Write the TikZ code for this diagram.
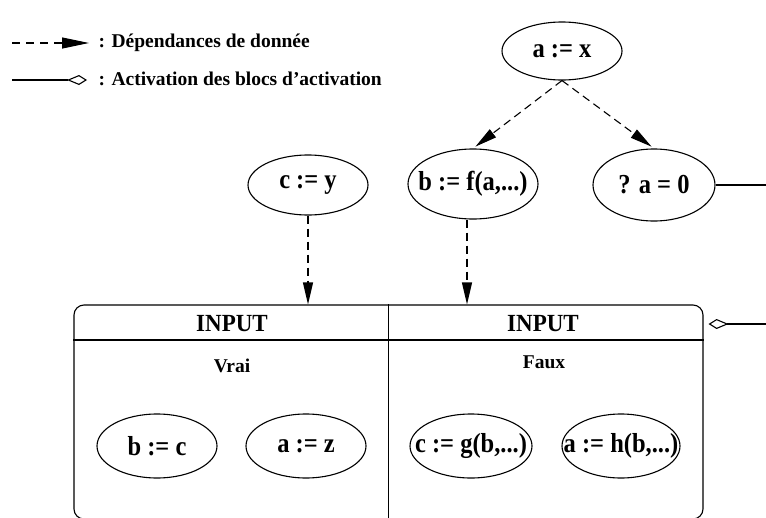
\documentclass[tikz,border=0pt]{standalone}
\usepackage{fontspec}
\setmainfont{Liberation Serif}
\usetikzlibrary{shapes.geometric,arrows.meta,calc}
\newcommand\elltxt[1]{\makebox[0pt]{\scalebox{1}[1.12]{#1}}}
\begin{document}
\begin{tikzpicture}[x=1pt,y=-1pt,line width=1.1pt,
  ell/.style={draw,ellipse,inner sep=0pt,font=\fontsize{24.5}{25}\selectfont\bfseries},
  dep/.style={dash pattern=on 8pt off 5pt,-{Triangle[length=22pt,width=10pt]}},
  act/.style={-{Kite[open,length=20pt,width=10pt,inset=12pt]}},
  leg/.style={inner sep=0pt,anchor=west,font=\fontsize{19.5}{20}\selectfont\bfseries},
  head/.style={inner sep=0pt,font=\fontsize{23}{24}\selectfont\bfseries},
  sub/.style={inner sep=0pt,font=\fontsize{19.5}{20}\selectfont\bfseries}]
\useasboundingbox (0,0) rectangle (766,517);
% legend
\coordinate (l1a) at (12,43);
\coordinate (l1b) at (89,43);
\coordinate (l2a) at (12,80);
\coordinate (l2b) at (87,80);
\draw[dash pattern=on 8pt off 6pt,-{Triangle[length=27pt,width=11pt]}] (l1a) -- (l1b);
\draw[act] (l2a) -- (l2b);
\node[leg] (t1) at (98,43) {: Dépendances de donnée};
\node[leg] (t2) at (98,79) {: Activation des blocs d’activation};
% top ellipses
\node[ell,minimum width=120pt,minimum height=58pt] (ax) at (562,51) {\elltxt{a := x}};
\node[ell,minimum width=130pt,minimum height=70pt] (bf) at (473,184) {\elltxt{b := f(a,...)}};
\node[ell,minimum width=122pt,minimum height=72pt] (qa) at (654,185) {\elltxt{? a = 0}};
\node[ell,minimum width=120pt,minimum height=60pt] (cy) at (308,185) {\elltxt{c := y}};
% box
\node[draw,rounded corners=10pt,minimum width=629pt,minimum height=214pt,inner sep=0pt] (box) at (388.5,412) {};
\draw (box.north) -- (box.south);
\coordinate (hl) at (74,340);
\draw (box.west |- hl) -- (box.east |- hl);
\node[head] (in1) at (232,324) {\scalebox{1}[1.07]{INPUT}};
\node[head] (in2) at (543,324) {\scalebox{1}[1.07]{INPUT}};
\node[sub] (vrai) at (232,366) {Vrai};
\node[sub] (faux) at (544,362) {Faux};
\node[ell,minimum width=120pt,minimum height=64pt] (bc) at (157,446) {\elltxt{b := c}};
\node[ell,minimum width=120pt,minimum height=64pt] (az) at (306,446) {\elltxt{a := z}};
\node[ell,minimum width=122pt,minimum height=64pt] (cg) at (471,446) {\elltxt{c := g(b,...)}};
\node[ell,minimum width=118pt,minimum height=64pt] (ah) at (621,446) {\elltxt{a := h(b,...)}};
% connectors
\draw[dep,shorten >=3pt] (ax.south) -- (bf.north);
\draw[dep,shorten >=3pt] (ax.south) -- (qa.north);
\draw[dep] (cy.south) -- (cy.south |- box.north);
\draw[dep] ([xshift=-6pt]bf.south) -- ([xshift=-6pt]bf.south |- box.north);
\coordinate (qr) at (766,185);
\draw (qa.east) -- (qr);
\coordinate (ar) at (766,324);
\draw[act,shorten >=5pt] (ar) -- (box.east |- ar);
\end{tikzpicture}
\end{document}
